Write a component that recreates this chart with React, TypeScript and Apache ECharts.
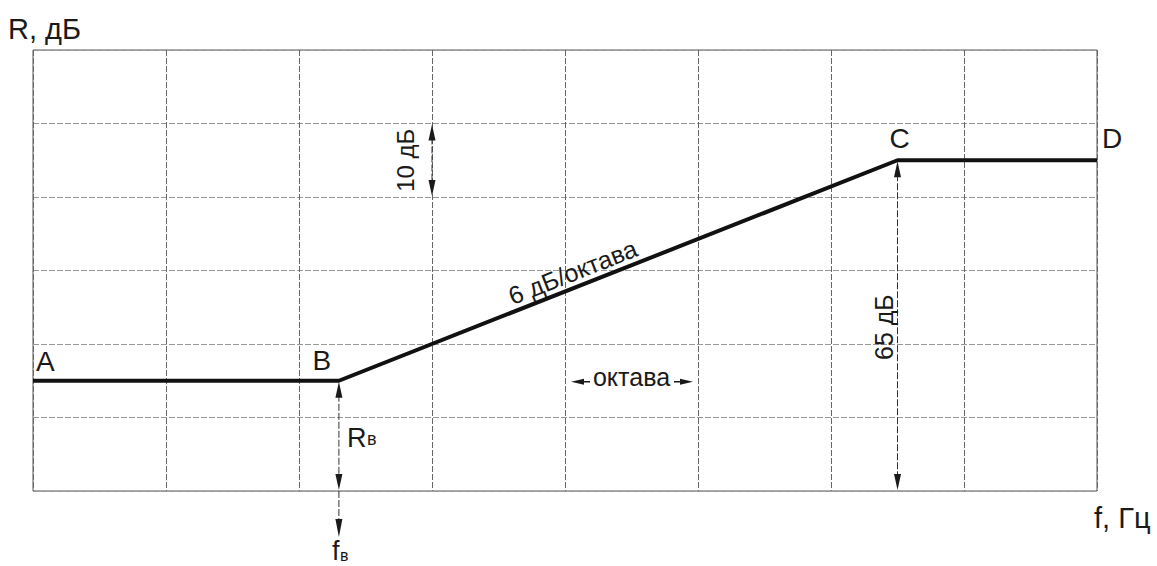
import React, { useEffect, useRef } from 'react';
import * as echarts from 'echarts';

// Frequency in octaves (one grid column = one octave) and insulation level in dB
const octaves = [0, 2.3, 6.5, 8];
const levelsDb = [35, 35, 65, 65];
const pointNames = ['A', 'B', 'C', 'D'];
const yTicks = [20, 30, 40, 50, 60, 70, 80];
const xTickCount = 8;
const yAxisName = 'R, дБ';
const xAxisName = 'f, Гц';
const slopeLabel = '6 дБ/октава';
const octaveLabel = 'октава';
const stepLabel = '10 дБ';
const levelLabel = '65 дБ';

const FONT = '"Liberation Sans", Arial, Helvetica, sans-serif';
const INK = '#1a1a1a';

type P = [number, number];

function head(tip: P, dir: P, len = 16, hw = 3.5) {
  const [dx, dy] = dir;
  const bx = tip[0] - dx * len;
  const by = tip[1] - dy * len;
  const pxv = -dy, pyv = dx;
  return {
    type: 'polygon',
    silent: true,
    shape: { points: [tip, [bx + pxv * hw, by + pyv * hw], [bx - pxv * hw, by - pyv * hw]] },
    style: { fill: INK },
  };
}

function seg(a: P, b: P, w = 1) {
  return {
    type: 'line',
    silent: true,
    shape: { x1: a[0], y1: a[1], x2: b[0], y2: b[1] },
    style: { stroke: '#333', lineWidth: w, lineDash: [7, 2] },
  };
}

function txt(x: number, y: number, text: string, size: number, align = 'center', vAlign = 'middle', rotation = 0) {
  return {
    type: 'text',
    silent: true,
    x,
    y,
    rotation,
    style: { text, fontSize: size, fontFamily: FONT, fill: INK, align, verticalAlign: vAlign },
  };
}

export default function App() {
  const ref = useRef<HTMLDivElement>(null);
  useEffect(() => {
    if (!ref.current) return;
    const chart = echarts.init(ref.current, undefined, { renderer: 'svg' });
    const yMin = yTicks[0];
    const yMax = yTicks[yTicks.length - 1];
    chart.setOption({
      animation: false,
      backgroundColor: '#fff',
      grid: { left: 33, top: 50, right: 60, bottom: 75, show: true, borderColor: '#555', borderWidth: 1 },
      xAxis: {
        type: 'value',
        min: 0,
        max: xTickCount,
        interval: 1,
        axisLine: { show: false },
        axisTick: { show: false },
        axisLabel: { show: false },
        splitLine: { show: true, lineStyle: { color: '#666', width: 1, type: [6, 2] } },
      },
      yAxis: {
        type: 'value',
        min: yMin,
        max: yMax,
        interval: 10,
        axisLine: { show: false },
        axisTick: { show: false },
        axisLabel: { show: false },
        splitLine: { show: true, lineStyle: { color: '#999', width: 1, type: [6, 2] } },
      },
      series: [
        {
          type: 'line',
          data: octaves.map((x, i) => [x, levelsDb[i]]),
          symbol: 'none',
          silent: true,
          lineStyle: { color: '#111', width: 4 },
        },
      ],
    });

    const px = (x: number, y: number): P => chart.convertToPixel({ gridIndex: 0 }, [x, y]) as P;
    const pts = octaves.map((x, i) => px(x, levelsDb[i]));
    const [A, B, C, D] = pts;
    const topLeft = px(0, yMax);
    const bottomRight = px(xTickCount, yMin);
    const g: any[] = [];

    // point names
    g.push(txt(A[0] + 3, A[1] - 5, pointNames[0], 28, 'left', 'bottom'));
    g.push(txt(B[0] - 17, B[1] - 6, pointNames[1], 28, 'center', 'bottom'));
    g.push(txt(C[0] + 2, C[1] - 8, pointNames[2], 28, 'center', 'bottom'));
    g.push(txt(D[0] + 5, D[1] - 8, pointNames[3], 28, 'left', 'bottom'));

    // axis names
    g.push(txt(topLeft[0] - 25, topLeft[1] - 7, yAxisName, 29, 'left', 'bottom'));
    g.push(txt(bottomRight[0] - 3, bottomRight[1] + 12, xAxisName, 29, 'left', 'top'));

    // R_B dimension
    const bBase = px(octaves[1], yMin);
    g.push(seg([B[0], B[1] + 14], [bBase[0], bBase[1] - 14]));
    g.push(head([B[0], B[1] + 1], [0, -1]));
    g.push(head([bBase[0], bBase[1] - 1], [0, 1]));
    g.push(txt(B[0] + 8, (B[1] + bBase[1]) / 2 + 2, 'R', 27, 'left', 'middle'));
    g.push(txt(B[0] + 28, (B[1] + bBase[1]) / 2 + 12, 'в', 18, 'left', 'bottom'));
    // f_B arrow below axis
    g.push(seg([bBase[0], bBase[1]], [bBase[0], bBase[1] + 32]));
    g.push(head([bBase[0], bBase[1] + 46], [0, 1], 18));
    g.push(txt(bBase[0] - 7, bBase[1] + 73, 'f', 27, 'left', 'bottom'));
    g.push(txt(bBase[0] + 1, bBase[1] + 72, 'в', 16, 'left', 'bottom'));

    // 10 dB dimension
    const t1 = px(3, 70);
    const t2 = px(3, 60);
    g.push(seg([t1[0], t1[1] + 14], [t2[0], t2[1] - 14]));
    g.push(head([t1[0], t1[1] + 1], [0, -1]));
    g.push(head([t2[0], t2[1] - 1], [0, 1]));
    g.push(txt(t1[0] - 27, (t1[1] + t2[1]) / 2, stepLabel, 24, 'center', 'middle', Math.PI / 2));

    // 65 dB dimension
    const cBase = px(octaves[2], yMin);
    g.push(seg([C[0], C[1] + 14], [cBase[0], cBase[1] - 14]));
    g.push(head([C[0], C[1] + 1], [0, -1]));
    g.push(head([cBase[0], cBase[1] - 1], [0, 1]));
    const l65 = px(octaves[2], 42.3);
    g.push(txt(l65[0] - 14, l65[1], levelLabel, 25, 'center', 'middle', Math.PI / 2));

    // slope label along line
    const ang = Math.atan2(B[1] - C[1], C[0] - B[0]);
    const sx = 565;
    const tFrac = (sx - B[0]) / (C[0] - B[0]);
    const sy = B[1] + (C[1] - B[1]) * tFrac;
    g.push(txt(sx + Math.sin(ang) * 21, sy - Math.cos(ang) * 21, slopeLabel, 25, 'center', 'middle', ang));

    // octave dimension
    const o1 = px(4, levelsDb[0]);
    const o2 = px(5, levelsDb[0]);
    const oy = o1[1] + 1;
    g.push(txt((o1[0] + o2[0]) / 2, oy - 5, octaveLabel, 25, 'center', 'middle'));
    g.push({ type: 'line', silent: true, shape: { x1: o1[0] + 16, y1: oy, x2: o1[0] + 25, y2: oy }, style: { stroke: INK, lineWidth: 1.5 } });
    g.push(head([o1[0] + 6, oy], [-1, 0], 13, 3));
    g.push({ type: 'line', silent: true, shape: { x1: o2[0] - 24, y1: oy, x2: o2[0] - 16, y2: oy }, style: { stroke: INK, lineWidth: 1.5 } });
    g.push(head([o2[0] - 5, oy], [1, 0], 13, 3));

    chart.setOption({ graphic: g });
    return () => chart.dispose();
  }, []);
  return <div ref={ref} style={{ position: 'fixed', left: 0, top: 0, width: 1157, height: 566 }} />;
}
